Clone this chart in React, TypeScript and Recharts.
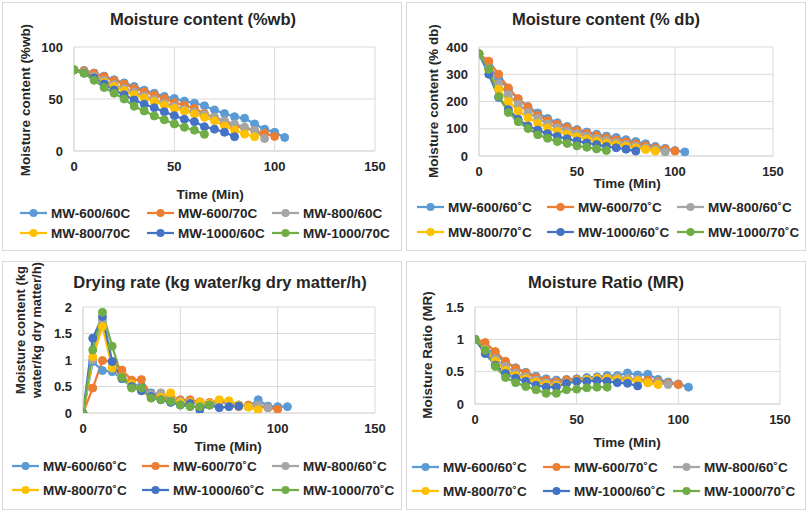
import React from 'react';
import { LineChart, Line, XAxis, YAxis, CartesianGrid } from 'recharts';

const time = [0, 5, 10, 15, 20, 25, 30, 35, 40, 45, 50, 55, 60, 65, 70, 75, 80, 85, 90, 95, 100, 105];
const seriesNames = ['MW-600/60', 'MW-600/70', 'MW-800/60', 'MW-800/70', 'MW-1000/60', 'MW-1000/70'];
const seriesColors = ['#5B9BD5', '#ED7D31', '#A5A5A5', '#FFC000', '#4472C4', '#70AD47'];

// Moisture content (%wb)
const wb600_60 = [78, 77.5, 75, 72, 68.5, 65.5, 62, 58.5, 55.5, 52.5, 50.5, 48, 46, 43.5, 39.5, 36, 33, 31.5, 26, 21, 18, 13];
const wb600_70 = [78, 77.2, 74.7, 71.5, 67.6, 64.4, 60.3, 57, 53.8, 50.6, 46.5, 44, 41, 36, 32.4, 27.2, 24, 22, 19.5, 17, 14];
const wb800_60 = [78, 76, 72, 68, 64, 60, 56.5, 53, 49.5, 46, 43, 40, 37.5, 35, 32.5, 29, 26, 23, 20, 12];
const wb800_70 = [78, 75, 71, 66, 62, 58, 54, 51, 47.5, 44, 41, 38.5, 35.6, 32.4, 29, 24, 20, 16.3, 13.8];
const wb1000_60 = [78, 75, 70.5, 64.5, 58.6, 54, 49, 45, 41.6, 37.8, 34, 30.5, 28.2, 23.4, 21, 18, 13.8];
const wb1000_70 = [78, 74.7, 68, 61, 55.5, 50, 43, 38.5, 33.7, 30, 26, 22.8, 20, 16];

// Moisture content (% db)
const db600_60 = [375, 330, 285, 245, 210, 182, 158, 138, 122, 108, 97, 88, 80, 73, 68, 60, 53, 45, 35, 28, 20, 15];
const db600_70 = [375, 348, 300, 250, 210, 180, 150, 130, 116, 104, 93, 83, 75, 67, 60, 52, 45, 38, 30, 25, 18];
const db800_60 = [375, 320, 265, 225, 190, 160, 138, 118, 104, 92, 82, 73, 65, 57, 50, 43, 37, 30, 25, 15];
const db800_70 = [375, 315, 245, 200, 165, 140, 120, 103, 90, 80, 70, 62, 55, 48, 42, 36, 30, 24, 18];
const db1000_60 = [375, 300, 215, 170, 135, 110, 95, 82, 72, 63, 55, 48, 42, 35, 30, 25, 18];
const db1000_70 = [375, 318, 218, 160, 126, 101, 78, 65, 53, 46, 37, 32, 26, 20];

// Drying rate (kg water/kg dry matter/h)
const dr600_60 = [0, 0.97, 0.8, 0.78, 0.65, 0.55, 0.5, 0.38, 0.3, 0.25, 0.22, 0.2, 0.2, 0.18, 0.21, 0.18, 0.15, 0.12, 0.25, 0.13, 0.12, 0.12];
const dr600_70 = [0, 0.47, 0.99, 0.97, 0.81, 0.62, 0.63, 0.35, 0.3, 0.28, 0.25, 0.25, 0.21, 0.2, 0.23, 0.18, 0.12, 0.15, 0.12, 0.1, 0.07];
const dr800_60 = [0, 1.0, 1.75, 0.85, 0.68, 0.55, 0.45, 0.35, 0.38, 0.25, 0.22, 0.2, 0.18, 0.15, 0.2, 0.18, 0.15, 0.12, 0.15, 0.1];
const dr800_70 = [0, 1.06, 1.63, 0.85, 0.68, 0.55, 0.42, 0.3, 0.3, 0.38, 0.2, 0.2, 0.2, 0.18, 0.25, 0.23, 0.15, 0.11, 0.06];
const dr1000_60 = [0, 1.41, 1.82, 0.97, 0.65, 0.5, 0.42, 0.31, 0.25, 0.2, 0.15, 0.18, 0.06, 0.15, 0.1, 0.12, 0.13];
const dr1000_70 = [0, 1.19, 1.9, 1.26, 0.67, 0.47, 0.47, 0.28, 0.25, 0.22, 0.15, 0.12, 0.12, 0.15];

// Moisture Ratio (MR)
const mr600_60 = [1, 0.88, 0.76, 0.65, 0.56, 0.49, 0.43, 0.39, 0.37, 0.38, 0.39, 0.41, 0.42, 0.44, 0.44, 0.48, 0.45, 0.46, 0.38, 0.34, 0.31, 0.26];
const mr600_70 = [1, 0.95, 0.81, 0.66, 0.55, 0.48, 0.41, 0.37, 0.345, 0.37, 0.38, 0.38, 0.39, 0.4, 0.41, 0.39, 0.38, 0.37, 0.35, 0.32, 0.3];
const mr800_60 = [1, 0.85, 0.7, 0.58, 0.48, 0.42, 0.37, 0.33, 0.31, 0.33, 0.35, 0.37, 0.39, 0.4, 0.41, 0.4, 0.38, 0.33, 0.33, 0.3];
const mr800_70 = [1, 0.84, 0.66, 0.52, 0.44, 0.39, 0.34, 0.3, 0.29, 0.33, 0.36, 0.38, 0.4, 0.4, 0.38, 0.36, 0.36, 0.33, 0.3];
const mr1000_60 = [1, 0.78, 0.6, 0.47, 0.4, 0.35, 0.29, 0.26, 0.26, 0.32, 0.35, 0.35, 0.36, 0.35, 0.33, 0.32, 0.28];
const mr1000_70 = [1, 0.83, 0.58, 0.41, 0.33, 0.27, 0.22, 0.165, 0.165, 0.22, 0.23, 0.25, 0.26, 0.26];

const xTicks = [0, 50, 100, 150];

const FONT = '"Liberation Sans", Arial, sans-serif';
const TXT = '#262626';
const GRID = '#d9d9d9';
const DOT_R = 4;

function buildRows(series: number[][]) {
  return time.map((t, i) => {
    const row: Record<string, number | null> = { t };
    series.forEach((s, k) => {
      row['s' + k] = i < s.length ? s[i] : null;
    });
    return row;
  });
}

type PanelProps = {
  series: number[][];
  plot: { l: number; r: number; t: number; b: number };
  yDomain: [number, number];
  yTicks: number[];
};

function Panel({ series, plot, yDomain, yTicks }: PanelProps) {
  const rows = buildRows(series);
  const W = 808;
  const H = 512;
  const yW = 40;
  const xH = 24;
  const tickStyle = { fontFamily: FONT, fontSize: 13, fontWeight: 700, fill: TXT };
  return (
    <div style={{ position: 'absolute', left: 0, top: 0 }}>
      <LineChart
        width={W}
        height={H}
        data={rows}
        margin={{ top: plot.t, left: plot.l - yW, right: W - plot.r, bottom: H - plot.b - xH }}
      >
        <CartesianGrid stroke={GRID} strokeWidth={1} />
        <XAxis
          dataKey="t"
          type="number"
          domain={[0, 150]}
          ticks={xTicks}
          interval={0}
          height={xH}
          stroke={GRID}
          tickLine={false}
          tickSize={0}
          tickMargin={11}
          tick={tickStyle}
          allowDataOverflow
        />
        <YAxis
          type="number"
          domain={yDomain}
          ticks={yTicks}
          interval={0}
          width={yW}
          stroke={GRID}
          tickLine={false}
          tickSize={0}
          tickMargin={11}
          tick={tickStyle}
          allowDataOverflow
        />
        {series.map((_, k) => (
          <Line
            key={k}
            dataKey={'s' + k}
            type="linear"
            stroke={seriesColors[k]}
            strokeWidth={2.25}
            dot={{ r: DOT_R, fill: seriesColors[k], stroke: seriesColors[k], strokeWidth: 1 }}
            isAnimationActive={false}
            connectNulls={false}
          />
        ))}
      </LineChart>
    </div>
  );
}

type LegendSpec = { rows: number[]; lineX: number[]; suffix: string };

function LegendBlock({ rows, lineX, suffix }: LegendSpec) {
  return (
    <g>
      {seriesNames.map((n, k) => {
        const r = Math.floor(k / 3);
        const c = k % 3;
        const y = rows[r];
        const x = lineX[c];
        return (
          <g key={k}>
            <line x1={x} x2={x + 27} y1={y} y2={y} stroke={seriesColors[k]} strokeWidth={2.25} />
            <circle cx={x + 13.5} cy={y} r={DOT_R} fill={seriesColors[k]} />
            <text x={x + 31} y={y} dy="0.36em" fontFamily={FONT} fontSize={13.5} fontWeight={700} fill={TXT}>
              {n + suffix}
            </text>
          </g>
        );
      })}
    </g>
  );
}

function T({ x, y, size, children, rotate }: { x: number; y: number; size: number; children: React.ReactNode; rotate?: boolean }) {
  return (
    <text
      x={x}
      y={y}
      dy="0.36em"
      textAnchor="middle"
      fontFamily={FONT}
      fontSize={size}
      fontWeight={700}
      fill={TXT}
      transform={rotate ? `rotate(-90 ${x} ${y})` : undefined}
    >
      {children}
    </text>
  );
}

export default function App() {
  return (
    <div style={{ position: 'absolute', left: 0, top: 0, width: 808, height: 512, background: '#fff', overflow: 'hidden' }}>
      <svg width={808} height={512} style={{ position: 'absolute', left: 0, top: 0 }}>
        <rect x={2.5} y={2.5} width={399} height={248} fill="#fff" stroke={GRID} />
        <rect x={406.5} y={2.5} width={399} height={248} fill="#fff" stroke={GRID} />
        <rect x={2.5} y={261.5} width={399} height={248} fill="#fff" stroke={GRID} />
        <rect x={406.5} y={261.5} width={399} height={248} fill="#fff" stroke={GRID} />
      </svg>
      <Panel
        series={[wb600_60, wb600_70, wb800_60, wb800_70, wb1000_60, wb1000_70]}
        plot={{ l: 74, r: 375, t: 47, b: 151 }}
        yDomain={[0, 100]}
        yTicks={[0, 50, 100]}
      />
      <Panel
        series={[db600_60, db600_70, db800_60, db800_70, db1000_60, db1000_70]}
        plot={{ l: 479, r: 773, t: 47, b: 156 }}
        yDomain={[0, 400]}
        yTicks={[0, 100, 200, 300, 400]}
      />
      <Panel
        series={[dr600_60, dr600_70, dr800_60, dr800_70, dr1000_60, dr1000_70]}
        plot={{ l: 83, r: 375, t: 307, b: 413 }}
        yDomain={[0, 2]}
        yTicks={[0, 0.5, 1, 1.5, 2]}
      />
      <Panel
        series={[mr600_60, mr600_70, mr800_60, mr800_70, mr1000_60, mr1000_70]}
        plot={{ l: 475, r: 780, t: 307, b: 404 }}
        yDomain={[0, 1.5]}
        yTicks={[0, 0.5, 1, 1.5]}
      />
      <svg width={808} height={512} style={{ position: 'absolute', left: 0, top: 0 }}>
        <T x={203} y={19} size={16.5}>Moisture content (%wb)</T>
        <T x={606} y={19} size={16.5}>Moisture content (% db)</T>
        <T x={220} y={282} size={16.5}>Drying rate (kg water/kg dry matter/h)</T>
        <T x={606} y={282} size={16.5}>Moisture Ratio (MR)</T>

        <T x={25} y={100} size={13.5} rotate>Moisture content (%wb)</T>
        <T x={433} y={101} size={13.5} rotate>Moisture content (% db)</T>
        <T x={20} y={330} size={13} rotate>Moisture content (kg</T>
        <T x={36} y={330} size={13} rotate>water/kg dry matter/h)</T>
        <T x={427} y={355} size={13.5} rotate>Moisture Ratio (MR)</T>

        <T x={210} y={194} size={13.5}>Time (Min)</T>
        <T x={627} y={183} size={13.5}>Time (Min)</T>
        <T x={228} y={446} size={13.5}>Time (Min)</T>
        <T x={627} y={442} size={13.5}>Time (Min)</T>

        <LegendBlock rows={[213, 233]} lineX={[20, 147, 272]} suffix="C" />
        <LegendBlock rows={[207, 232]} lineX={[417, 547, 677]} suffix={'\u02DAC'} />
        <LegendBlock rows={[466, 490]} lineX={[12, 142, 272]} suffix={'\u02DAC'} />
        <LegendBlock rows={[467, 491]} lineX={[412, 543, 673]} suffix={'\u02DAC'} />
      </svg>
    </div>
  );
}
